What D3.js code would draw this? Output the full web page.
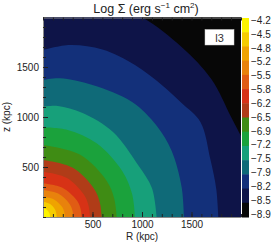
<!DOCTYPE html>
<html><head><meta charset="utf-8">
<script src="https://cdn.jsdelivr.net/npm/d3@7"></script>
<style>
html,body{margin:0;padding:0;background:#fff;}
svg{display:block;font-family:"Liberation Sans",Arial,sans-serif;}
</style></head>
<body><svg id="c" width="274" height="244"></svg>
<script>
// Colour bar labels (top -> bottom)
const barLabels = ["−4.2","−4.5","−4.8","−5.2","−5.5","−5.8","−6.2","−6.5","−6.9","−7.2","−7.5","−7.9","−8.2","−8.5","−8.9"];
// Band colours, highest band (top of bar) to lowest
const bandColors = ["#fcf400","#f5cc00","#efa300","#e8820c","#e05c14","#d73216","#b03c18","#3f8c14","#1ba23c","#17a07a","#0f6a78","#13307a","#0e1448","#070707"];
// Contour boundaries (R, z in kpc), inner (-4.5) to outer (-8.5)
const contourLevels = ["-4.5","-4.8","-5.2","-5.5","-5.8","-6.2","-6.5","-6.9","-7.2","-7.5","-7.9","-8.2","-8.5"];
const contourPoints = [
  [[0,87],[36,75],[61,44],[69,22],[71,0]],
  [[0,153],[69,132],[120,77],[133,40],[138,0]],
  [[0,203],[111,176],[192,102],[214,53],[222,0]],
  [[0,270],[153,234],[265,135],[296,70],[306,0]],
  [[0,337],[196,292],[339,169],[378,87],[391,0]],
  [[0,453],[238,392],[411,227],[459,117],[475,0]],
  [[0,570],[297,494],[514,285],[573,148],[593,0]],
  [[0,720],[372,624],[644,360],[719,186],[744,0]],
  [[0,897],[250,870],[542,737],[800,460],[900,230],[929,0]],
  [[0,1103],[150,1110],[400,1040],[707,850],[960,520],[1100,290],[1148,0]],
  [[0,1370],[172,1387],[500,1320],[900,1150],[1150,910],[1300,660],[1400,300],[1424,0]],
  [[0,1670],[273,1720],[600,1675],[929,1520],[1200,1320],[1400,1140],[1590,950],[1690,580],[1750,280],[1771,0]],
  [[0,2240],[600,2160],[1013,1990],[1400,1700],[1700,1380],[1900,1000],[2050,700],[2180,300],[2210,0]]
];
const xMajor = [500,1000,1500];
const yMajor = [500,1000,1500];
const minorTicks = d3.range(0,2001,100);
const boxLabel = "l3";

const svg = d3.select("#c");
const L=43, R=241, T=17, B=217;
const x = d3.scaleLinear().domain([0,2000]).range([L,R]);
const y = d3.scaleLinear().domain([0,2000]).range([B,T]);

svg.append("defs").append("clipPath").attr("id","pc")
  .append("rect").attr("x",L).attr("y",T).attr("width",R-L).attr("height",B-T);

const g = svg.append("g").attr("clip-path","url(#pc)");
g.append("rect").attr("x",L).attr("y",T).attr("width",R-L).attr("height",B-T).attr("fill",bandColors[13]);

const line = d3.line().x(d=>x(d[0])).y(d=>y(d[1])).curve(d3.curveCatmullRom.alpha(0.5));
for (let k = contourPoints.length-1; k>=0; k--) {
  g.append("path")
    .attr("d", line(contourPoints[k]) + "L" + x(0) + "," + y(0) + "Z")
    .attr("fill", bandColors[k]);
}

// axes
function axisStyle(sel){
  sel.select(".domain").attr("stroke","#8a8a8a");
  sel.selectAll(".tick line").attr("stroke","#222");
  sel.selectAll("text").attr("font-size","10px").attr("fill","#222").attr("font-family","'Liberation Sans',Arial,sans-serif");
}
const fmt = d3.format("d");
svg.append("g").attr("transform",`translate(0,${B})`)
  .call(d3.axisBottom(x).tickValues(minorTicks).tickSize(-3).tickSizeOuter(0).tickFormat(""))
  .call(axisStyle);
svg.append("g").attr("transform",`translate(0,${B})`)
  .call(d3.axisBottom(x).tickValues(xMajor).tickSize(-5).tickSizeOuter(0).tickPadding(4).tickFormat(fmt))
  .call(axisStyle).call(s=>s.select(".domain").remove());
svg.append("g").attr("transform",`translate(${L},0)`)
  .call(d3.axisLeft(y).tickValues(minorTicks).tickSize(-3).tickSizeOuter(0).tickFormat(""))
  .call(axisStyle);
svg.append("g").attr("transform",`translate(${L},0)`)
  .call(d3.axisLeft(y).tickValues(yMajor).tickSize(-5).tickSizeOuter(0).tickPadding(4).tickFormat(fmt))
  .call(axisStyle).call(s=>s.select(".domain").remove());
svg.append("g").attr("transform",`translate(0,${T+0.5})`)
  .call(d3.axisTop(x).tickValues(minorTicks).tickSize(-3).tickSizeOuter(0).tickFormat(""))
  .call(axisStyle);

// axis titles
svg.append("text").attr("x",(L+R)/2).attr("y",239.5).attr("text-anchor","middle")
  .attr("font-size","10px").attr("fill","#222").text("R (kpc)");
svg.append("text").attr("transform",`translate(9.5,${(T+B)/2}) rotate(-90)`).attr("text-anchor","middle")
  .attr("font-size","10px").attr("fill","#222").text("z (kpc)");

// title
const t = svg.append("text").attr("x",146).attr("y",13).attr("text-anchor","middle")
  .attr("font-size","12.5px").attr("fill","#222");
t.append("tspan").text("Log Σ (erg s");
t.append("tspan").attr("dy",-5).attr("font-size","8px").text("−1");
t.append("tspan").attr("dy",5).text(" cm");
t.append("tspan").attr("dy",-5).attr("font-size","8px").text("2");
t.append("tspan").attr("dy",5).text(")");

// label box
svg.append("rect").attr("x",205).attr("y",29.5).attr("width",29).attr("height",15.5)
  .attr("fill","#fff").attr("stroke","#ccc").attr("stroke-width",0.5);
svg.append("text").attr("x",219.5).attr("y",41.5).attr("text-anchor","middle")
  .attr("font-size","11px").attr("fill","#333").text(boxLabel);

// colour bar
const barX = 242, barW = 7;
const by = d3.scaleBand().domain(d3.range(bandColors.length)).range([18,217]);
svg.append("g").selectAll("rect").data(bandColors).join("rect")
  .attr("x",barX).attr("width",barW)
  .attr("y",(d,i)=>by(i)).attr("height",by.bandwidth()+0.5).attr("fill",d=>d);
const ly = d3.scaleLinear().domain([0,barLabels.length-1]).range([20.5,214]);
svg.append("g").selectAll("text").data(barLabels).join("text")
  .attr("x",251).attr("y",(d,i)=>ly(i)).attr("dy","0.35em")
  .attr("font-size","10px").attr("fill","#222").text(d=>d);
</script></body></html>
